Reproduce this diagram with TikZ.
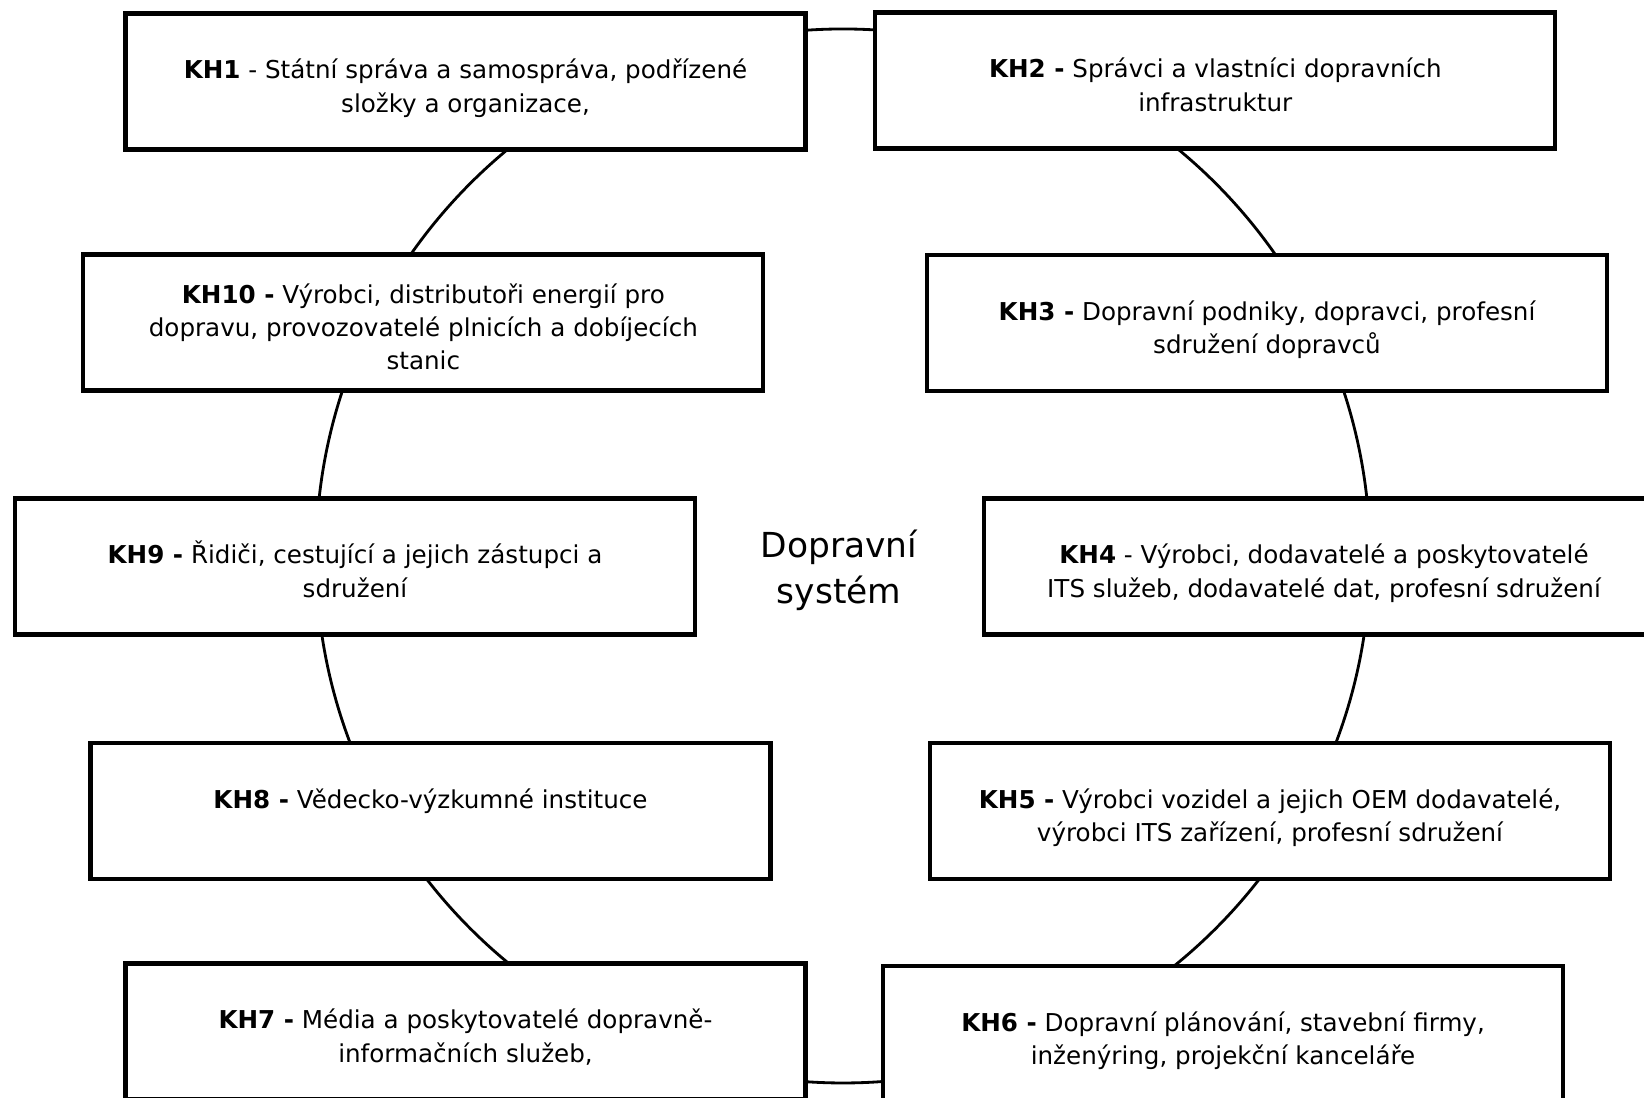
\documentclass[tikz,border=0pt]{standalone}
\usepackage{fontspec}
\setmainfont{DejaVu Sans}
\newcommand{\kstrut}{\rule{0pt}{8pt}}

\begin{document}
\begin{tikzpicture}[line join=miter,
  kbox/.style={draw, line width=1.2pt, fill=white, minimum width=6.80cm,
    minimum height=1.36cm, inner sep=0pt, align=center, text depth=0pt,
    font=\fontsize{7}{9.5}\selectfont},
  hub/.style={draw, circle, line width=0.8pt, minimum size=10.54cm, inner sep=0pt}]
\clip (0,0) rectangle (16.44,10.98);
% ring behind the boxes
\node[hub] (ring) at (8.43,5.42) {};
\node[align=center, font=\fontsize{9.8}{13}\selectfont] (sys) at (8.39,5.28) {Dopravní\\systém};
% left column
\node[kbox] (kh1) at (4.655,10.165) {\kstrut\textbf{KH1} - Státní správa a samospráva, podřízené\\složky a organizace,};
\node[kbox] (kh10) at (4.233,7.755) {\kstrut\textbf{KH10 -} Výrobci, distributoři energií pro\\dopravu, provozovatelé plnicích a dobíjecích\\stanic};
\node[kbox] (kh9) at (3.55,5.315) {\kstrut\textbf{KH9 -} Řidiči, cestující a jejich zástupci a\\sdružení};
\node[kbox] (kh8) at (4.305,2.87) {\kstrut\textbf{KH8 -} Vědecko-výzkumné instituce\\~};
\node[kbox] (kh7) at (4.655,0.665) {\kstrut\textbf{KH7 -} Média a poskytovatelé dopravně-\\informačních služeb,};
% right column
\node[kbox] (kh2) at (12.153,10.175) {\kstrut\textbf{KH2 -} Správci a vlastníci dopravních\\infrastruktur};
\node[kbox] (kh3) at (12.67,7.75) {\kstrut\textbf{KH3 -} Dopravní podniky, dopravci, profesní\\sdružení dopravců};
\node[kbox] (kh4) at (13.24,5.315) {\kstrut\textbf{KH4} - Výrobci, dodavatelé a poskytovatelé\\ITS služeb, dodavatelé dat, profesní sdružení};
\node[kbox] (kh5) at (12.70,2.87) {\kstrut\textbf{KH5 -} Výrobci vozidel a jejich OEM dodavatelé,\\výrobci ITS zařízení, profesní sdružení};
\node[kbox] (kh6) at (12.23,0.64) {\kstrut\textbf{KH6 -} Dopravní plánování, stavební firmy,\\inženýring, projekční kanceláře};
\end{tikzpicture}
\end{document}
